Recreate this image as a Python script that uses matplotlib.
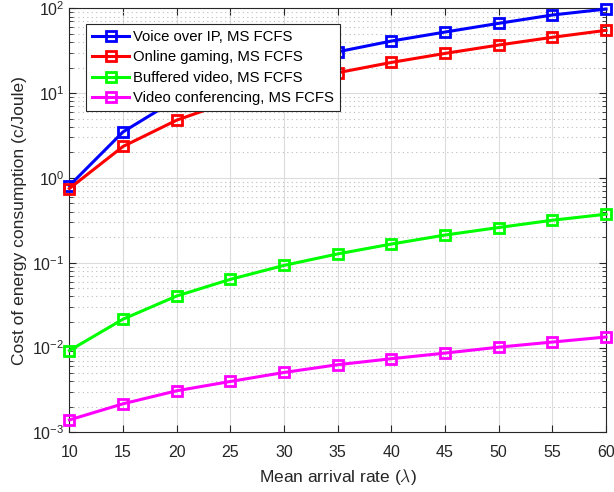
import numpy as np
import matplotlib
matplotlib.use('Agg')
import matplotlib.pyplot as plt
from matplotlib.ticker import LogLocator, NullFormatter

plt.rcParams['font.family'] = ['Liberation Sans', 'DejaVu Sans']
plt.rcParams['mathtext.fontset'] = 'cm'

arrival_rate = [10, 15, 20, 25, 30, 35, 40, 45, 50, 55, 60]

voip = [0.81, 3.49, 8.5, 14.5, 22.0, 30.7, 41.1, 52.5, 66.5, 83.4, 98.0]
gaming = [0.75, 2.35, 4.8, 8.0, 12.2, 17.4, 23.0, 29.4, 36.9, 45.5, 55.0]
buffered_video = [0.0092, 0.0216, 0.0405, 0.0637, 0.093, 0.127, 0.166, 0.212, 0.26, 0.317, 0.373]
video_conf = [0.0014, 0.00217, 0.00309, 0.00398, 0.00508, 0.00627, 0.00738, 0.00859, 0.0101, 0.0116, 0.0133]

series = [
    (voip, 'Voice over IP, MS FCFS', '#0000ff'),
    (gaming, 'Online gaming, MS FCFS', '#ff0000'),
    (buffered_video, 'Buffered video, MS FCFS', '#00ff00'),
    (video_conf, 'Video conferencing, MS FCFS', '#ff00ff'),
]

fig = plt.figure(figsize=(6.14, 4.92), dpi=100)
ax = fig.add_axes([0.113, 0.1213, 0.874, 0.8618])

for values, label, color in series:
    ax.plot(arrival_rate, values, '-s', color=color, lw=2.2, ms=7,
            mfc='none', mew=2, label=label, clip_on=False, zorder=3)

ax.set_yscale('log')
ax.set_xlim(10, 60)
ax.set_ylim(1e-3, 1e2)
ax.set_xticks(arrival_rate)
ax.yaxis.set_major_locator(LogLocator(base=10, numticks=10))
ax.yaxis.set_minor_locator(LogLocator(base=10, subs=np.arange(2, 10), numticks=10))
ax.yaxis.set_minor_formatter(NullFormatter())

# grilla estilo MATLAB
ax.grid(True, which='major', color='#dcdcdc', lw=0.8, ls='-')
ax.grid(True, which='minor', axis='y', color='#bdbdbd', lw=0.8, ls=(0, (1, 3)))
ax.set_axisbelow(True)

dark = '#262626'
for s in ax.spines.values():
    s.set_color(dark)
    s.set_linewidth(0.8)
ax.tick_params(which='both', direction='in', top=True, right=True, colors=dark,
               labelsize=11.5, labelcolor=dark)
ax.tick_params(which='major', length=5)
ax.tick_params(which='minor', length=3)
ax.tick_params(axis='x', pad=9)

ax.set_xlabel(r'Mean arrival rate ($\lambda$)', fontsize=12.5, color=dark, labelpad=5)
ax.set_ylabel('Cost of energy consumption (c/Joule)', fontsize=12.5, color=dark)

leg = ax.legend(loc='upper left', bbox_to_anchor=(0.031, 0.963), borderaxespad=0,
                fontsize=10.7, handlelength=2.5, fancybox=False, framealpha=1,
                edgecolor=dark, borderpad=0.42, labelspacing=0.42, handletextpad=0.25)
leg.get_frame().set_linewidth(0.8)

fig.savefig('out.png', dpi=100)
